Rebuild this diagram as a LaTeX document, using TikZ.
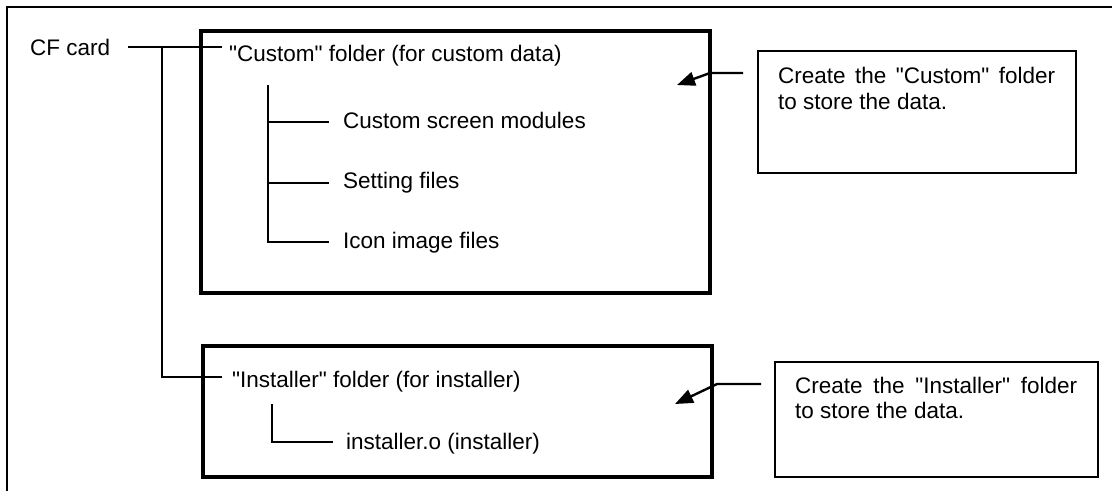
\documentclass[tikz,border=0pt]{standalone}
\usepackage{fontspec}
\newfontfamily\lsans{Liberation Sans}
\usetikzlibrary{arrows.meta,calc}
\begin{document}
\begin{tikzpicture}[x=1pt,y=-1pt,
  lbl/.style={anchor=base west,inner sep=0pt,font=\lsans\fontsize{22.5}{27}\selectfont},
  folderbox/.style={draw,line width=3.2pt,minimum width=509pt,inner sep=0pt},
  notebox/.style={draw,line width=2.2pt,inner sep=0pt},
  tree/.style={line width=1.5pt},
  callarrow/.style={line width=2.4pt,-{Triangle[length=18pt,width=14pt]}},
  frameline/.style={line width=2.5pt}]
\useasboundingbox (0,0) rectangle (1112,491);

% outer frame
\coordinate (fbl) at (7,491);
\coordinate (ftl) at (7,7);
\coordinate (ftr) at (1112,7);
\draw[frameline] (fbl) -- (ftl) -- (ftr);

% folder boxes
\node[folderbox,minimum height=262pt] (cbox) at (455.5,162) {};
\node[folderbox,minimum height=131pt] (ibox) at (457.5,411.5) {};

% CF card and main tree
\node[lbl] (cf) at (30,55) {CF card};
\node[lbl] (custom) at (229,61) {"Custom" folder (for custom data)};
\node[lbl] (inst) at (232,387) {"Installer" folder (for installer)};
\coordinate (cfr) at (128,47);
\coordinate (cusl) at (222,47);
\coordinate (j1) at (162,47);
\coordinate (j2) at (162,377);
\coordinate (instl) at (222,377);
\draw[tree] (cfr) -- (cusl);
\draw[tree] (j1) -- (j2) -- (instl);

% custom subtree
\node[lbl] (csm) at (343,128) {Custom screen modules};
\node[lbl] (sf) at (343,188) {Setting files};
\node[lbl] (iif) at (343,248) {Icon image files};
\coordinate (ct) at (268,85);
\coordinate (c1) at (268,122);
\coordinate (c2) at (268,183);
\coordinate (c3) at (268,242);
\coordinate (e1) at (329,122);
\coordinate (e2) at (329,183);
\coordinate (e3) at (329,242);
\draw[tree] (ct) -- (c3) -- (e3);
\draw[tree] (c1) -- (e1);
\draw[tree] (c2) -- (e2);

% installer subtree
\node[lbl] (insto) at (346,449) {installer.o (installer)};
\coordinate (it) at (272,404);
\coordinate (ib) at (272,442);
\coordinate (ie) at (333,442);
\draw[tree] (it) -- (ib) -- (ie);

% callout 1
\node[notebox,minimum width=318pt,minimum height=122pt] (n1) at (917,112) {};
\node[lbl] (n1a) at (778,83) {\makebox[277pt][s]{Create the "Custom" folder}};
\node[lbl] (n1b) at (778,109) {to store the data.};
\coordinate (a1s) at (743,73);
\coordinate (a1b) at (710,73);
\coordinate (a1t) at (677,85);
\draw[callarrow] (a1s) -- (a1b) -- (a1t);

% callout 2
\node[notebox,minimum width=323pt,minimum height=115pt] (n2) at (936.5,419.5) {};
\node[lbl] (n2a) at (795,393) {\makebox[282pt][s]{Create the "Installer" folder}};
\node[lbl] (n2b) at (795,418) {to store the data.};
\coordinate (a2s) at (761,384);
\coordinate (a2b) at (717,384);
\coordinate (a2t) at (675,404);
\draw[callarrow] (a2s) -- (a2b) -- (a2t);
\end{tikzpicture}
\end{document}
